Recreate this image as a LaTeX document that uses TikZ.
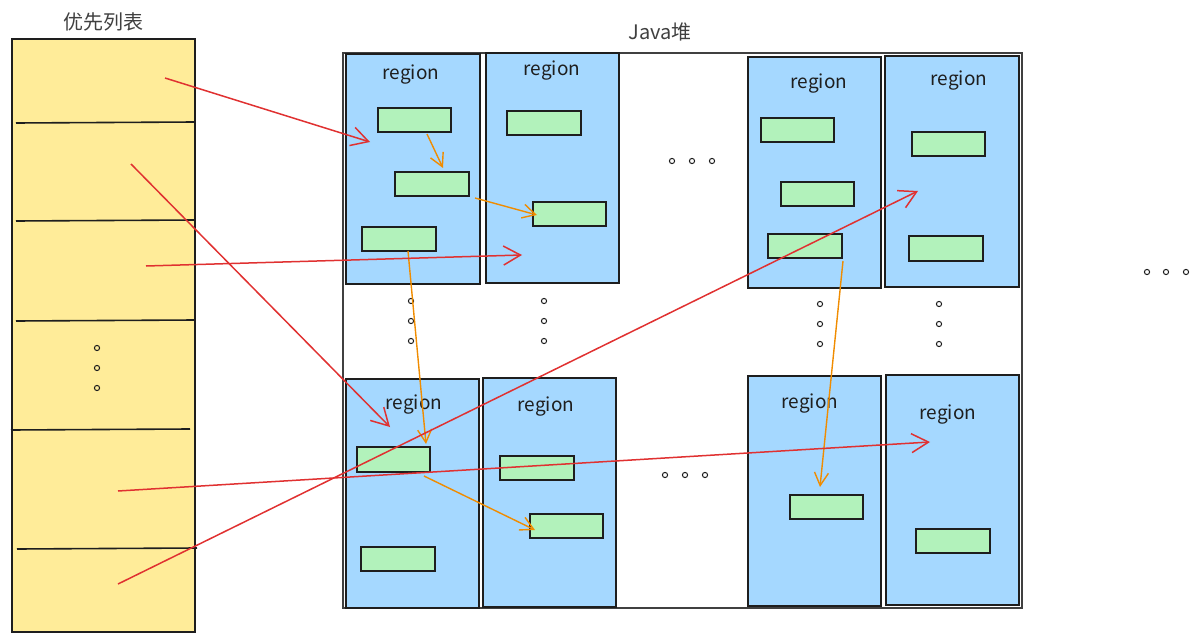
\documentclass[tikz,border=0pt]{standalone}
\usepackage{fontspec}
\setmainfont{Noto Sans CJK SC}
\usetikzlibrary{arrows.meta,fit}
\definecolor{ink}{HTML}{1E1E1E}
\definecolor{listyellow}{HTML}{FFEC99}
\definecolor{regblue}{HTML}{A5D8FF}
\definecolor{objgreen}{HTML}{B2F2BB}
\definecolor{refred}{HTML}{E03131}
\definecolor{refor}{HTML}{F08C00}
\tikzset{
  every node/.style={inner sep=0pt},
  listbox/.style={draw=ink, fill=listyellow, line width=0.8pt},
  divider/.style={draw=ink, line width=0.8pt},
  heapbox/.style={draw=ink!85, line width=0.9pt},
  regbox/.style={draw=ink, fill=regblue, line width=0.75pt, inner sep=0pt},
  objbox/.style={draw=ink, fill=objgreen, line width=0.75pt, inner sep=0pt},
  lbl/.style={text=ink, font=\fontsize{9.5}{11}\selectfont},
  title/.style={text=ink!85, font=\fontsize{10}{12}\selectfont},
  redarr/.style={draw=refred, line width=0.75pt, -{Straight Barb[length=8.5pt,width=9.5pt]}},
  orarr/.style={draw=refor, line width=0.7pt, -{Straight Barb[length=6.5pt,width=7pt]}},
  dotc/.style={draw=ink, line width=0.5pt},
}
\begin{document}
\begin{tikzpicture}[x=0.5pt,y=-0.5pt]
\useasboundingbox (0,0) rectangle (1200,642);
% priority list
\node[title] (ltitle) at (103,22) {优先列表};
\path[listbox] (12,39) rectangle (195,632);
\draw[divider] (16,123) -- (195,122);
\draw[divider] (16,221) -- (195,220);
\draw[divider] (16,321) -- (195,320);
\draw[divider] (11,430) -- (190,429);
\draw[divider] (17,549) -- (197,548);
\foreach \yy in {348,368,388} \draw[dotc] (97,\yy) circle[radius=1.3pt];
% java heap
\node[title] (htitle) at (660,32) {Java堆};
\path[heapbox] (343,53) rectangle (1022,608);
% regions
\node[regbox, fit={(346,54)(480,284)}] (r1) {};
\node[regbox, fit={(486,53)(619,283)}] (r2) {};
\node[regbox, fit={(748,57)(881,288)}] (r3) {};
\node[regbox, fit={(885,56)(1019,287)}] (r4) {};
\node[regbox, fit={(346,379)(479,608)}] (r5) {};
\node[regbox, fit={(483,378)(616,607)}] (r6) {};
\node[regbox, fit={(748,376)(881,606)}] (r7) {};
\node[regbox, fit={(886,375)(1019,605)}] (r8) {};
\node[lbl] (t1) at (411,75) {region};
\node[lbl] (t2) at (552,71) {region};
\node[lbl] (t3) at (819,84) {region};
\node[lbl] (t4) at (959,81) {region};
\node[lbl] (t5) at (414,405) {region};
\node[lbl] (t6) at (546,407) {region};
\node[lbl] (t7) at (810,404) {region};
\node[lbl] (t8) at (948,415) {region};
% objects
\node[objbox, fit={(378,108)(451,132)}] (g11) {};
\node[objbox, fit={(395,172)(469,196)}] (g12) {};
\node[objbox, fit={(362,227)(436,251)}] (g13) {};
\node[objbox, fit={(507,111)(581,135)}] (g21) {};
\node[objbox, fit={(533,202)(606,226)}] (g22) {};
\node[objbox, fit={(761,118)(834,142)}] (g31) {};
\node[objbox, fit={(781,182)(854,206)}] (g32) {};
\node[objbox, fit={(768,234)(842,258)}] (g33) {};
\node[objbox, fit={(912,132)(985,156)}] (g41) {};
\node[objbox, fit={(909,236)(983,261)}] (g42) {};
\node[objbox, fit={(357,447)(430,472)}] (g51) {};
\node[objbox, fit={(361,547)(435,571)}] (g52) {};
\node[objbox, fit={(500,456)(574,480)}] (g61) {};
\node[objbox, fit={(530,514)(603,538)}] (g62) {};
\node[objbox, fit={(790,495)(863,519)}] (g71) {};
\node[objbox, fit={(916,529)(990,553)}] (g81) {};
% ellipsis dots
\foreach \xx/\yy in {411/301,411/321,411/341, 544/301,544/321,544/341,
                     820/304,820/324,820/344, 939/304,939/324,939/344,
                     672/161,692/161,712/161, 665/475,685/475,705/475,
                     1147/272,1166/272,1186/272}
  \draw[dotc] (\xx,\yy) circle[radius=1.3pt];
% orange references between objects
\coordinate (oa1) at (427,134); \coordinate (oa2) at (443,168);
\coordinate (ob1) at (475,198); \coordinate (ob2) at (537,215);
\coordinate (oc1) at (408,251); \coordinate (oc2) at (426,444);
\coordinate (od1) at (424,476); \coordinate (od2) at (535,530);
\coordinate (oe1) at (843,261); \coordinate (oe2) at (820,487);
\draw[orarr] (oa1) -- (oa2);
\draw[orarr] (ob1) -- (ob2);
\draw[orarr] (oc1) -- (oc2);
\draw[orarr] (od1) -- (od2);
\draw[orarr] (oe1) -- (oe2);
% red references from list to regions
\coordinate (s1) at (165,78);  \coordinate (e1) at (370,142);
\coordinate (s2) at (131,164); \coordinate (e2) at (390,427);
\coordinate (s3) at (146,266); \coordinate (e3) at (522,255);
\coordinate (s4) at (118,491); \coordinate (e4) at (930,442);
\coordinate (s5) at (118,584); \coordinate (e5) at (918,191);
\draw[redarr] (s1) -- (e1);
\draw[redarr] (s2) -- (e2);
\draw[redarr] (s3) -- (e3);
\draw[redarr] (s4) -- (e4);
\draw[redarr] (s5) -- (e5);
\end{tikzpicture}
\end{document}
